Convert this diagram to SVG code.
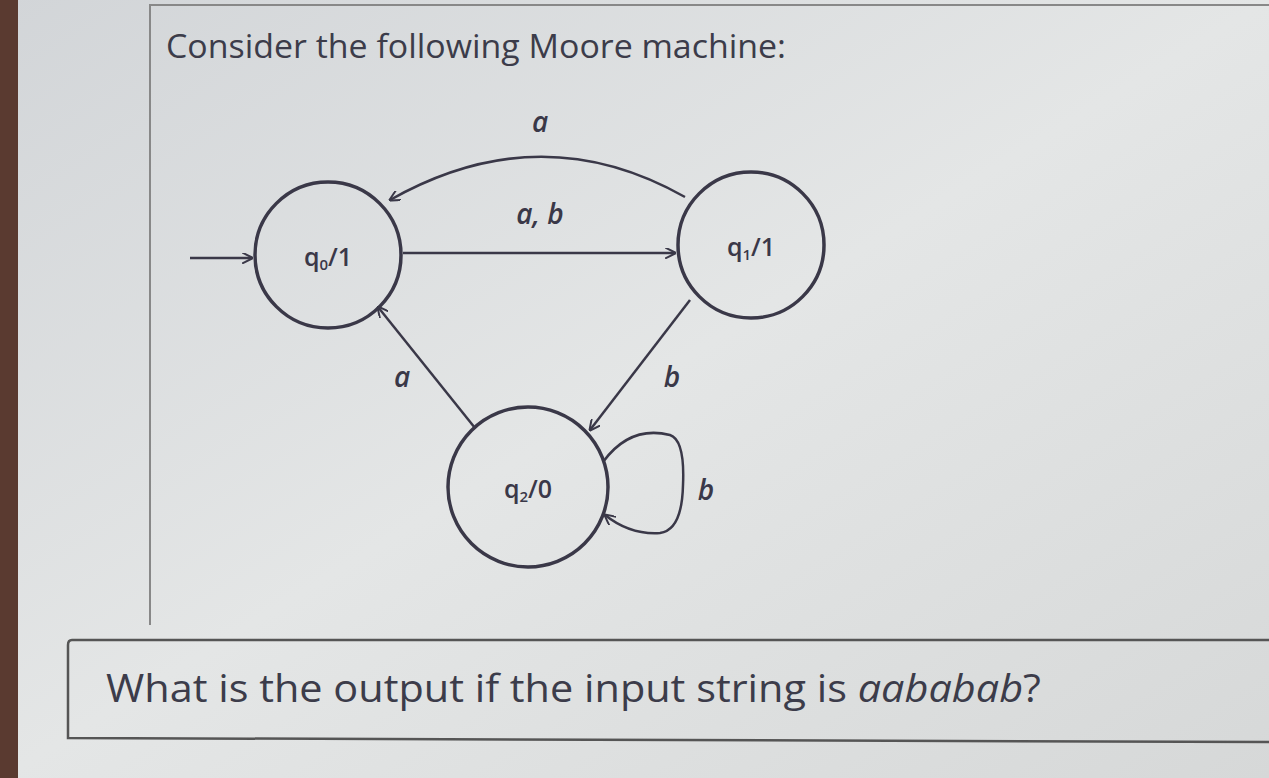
<svg xmlns="http://www.w3.org/2000/svg" width="1269" height="778" viewBox="0 0 1269 778">
<defs>
<linearGradient id="bg" x1="0" y1="0" x2="1" y2="1"><stop offset="0" stop-color="#d2d5d8"/><stop offset="0.5" stop-color="#e4e6e6"/><stop offset="1" stop-color="#d6d8d8"/></linearGradient>
<marker id="ah" viewBox="0 0 10 10" refX="9" refY="5" markerWidth="11" markerHeight="11" orient="auto" markerUnits="userSpaceOnUse"><path d="M0,0 L10,5 L0,10" fill="none" stroke="#3a3848" stroke-width="1.8"/></marker>
</defs>
<style>
.st{fill:none;stroke:#3a3848;stroke-width:3.5}
.ed{fill:none;stroke:#3a3848;stroke-width:2.5;marker-end:url(#ah)}
.lb{font-family:"Open Sans",sans-serif;font-size:28px;font-weight:600;fill:#3a3848;font-style:italic;text-anchor:middle}
.nl{font-family:"Open Sans",sans-serif;font-size:25px;font-weight:600;fill:#3a3848;text-anchor:middle}
.tx{font-family:"Open Sans",sans-serif;fill:#3c3c4a}
</style>
<rect width="1269" height="778" fill="url(#bg)"/>
<rect x="0" y="0" width="18" height="778" fill="#5a3a30"/>
<path d="M1269,5 L150,5 L150,625" fill="none" stroke="#888" stroke-width="2"/>
<path d="M1269,640 L72,640 Q68,640 68,645 L68,738 L1269,742" fill="none" stroke="#555" stroke-width="2.5"/>
<text class="tx" x="166" y="58" font-size="32" textLength="620" lengthAdjust="spacingAndGlyphs">Consider the following Moore machine:</text>
<text class="tx" x="106" y="702" font-size="38" textLength="935" lengthAdjust="spacingAndGlyphs">What is the output if the input string is <tspan font-style="italic">aababab</tspan>?</text>
<g id="connectors">
<path class="ed" d="M190,258 L252,258"/>
<path class="ed" d="M403,253 L675,253"/>
<path class="ed" d="M685,197 Q540,115 390,200"/>
<path class="ed" d="M690,300 L590,430"/>
<path class="ed" d="M475,428 L378,307"/>
<path class="ed" d="M603,462 Q630,425 670,435 Q685,440 683,485 Q682,530 660,533 Q630,535 605,515"/>
<text class="lb" x="540" y="132">a</text>
<text class="lb" x="540" y="224">a, b</text>
<text class="lb" x="672" y="387">b</text>
<text class="lb" x="402" y="387">a</text>
<text class="lb" x="706" y="500">b</text>
</g>
<g id="q0"><circle class="st" cx="328" cy="255" r="73"/><text class="nl" x="328" y="266">q<tspan font-size="15" dy="4">0</tspan><tspan dy="-4">/1</tspan></text></g>
<g id="q1"><circle class="st" cx="751" cy="245" r="73"/><text class="nl" x="751" y="256">q<tspan font-size="15" dy="4">1</tspan><tspan dy="-4">/1</tspan></text></g>
<g id="q2"><circle class="st" cx="528" cy="487" r="80"/><text class="nl" x="528" y="498">q<tspan font-size="15" dy="4">2</tspan><tspan dy="-4">/0</tspan></text></g>
</svg>
